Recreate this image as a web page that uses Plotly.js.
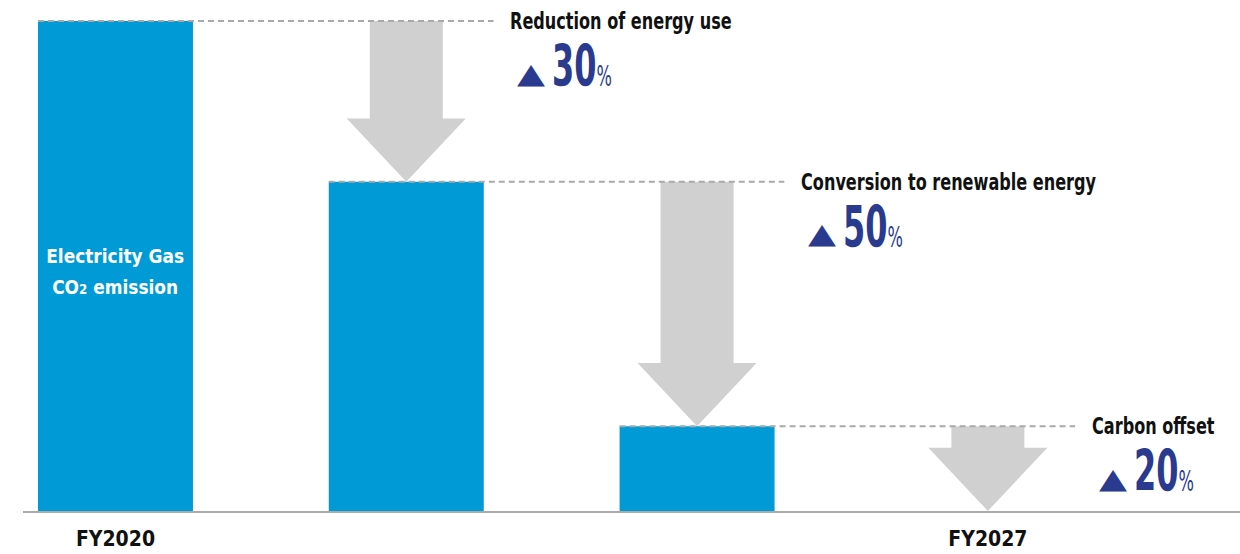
<!DOCTYPE html>
<html>
<head>
<meta charset="utf-8">
<script src="https://cdn.plot.ly/plotly-3.0.1.min.js"></script>
<style>html,body{margin:0;padding:0;background:#fff;}#chart{width:1240px;height:554px;}</style>
</head>
<body>
<div id="chart"></div>
<script>
// ---- data ----
const tickLabels = ["FY2020", "", "", "FY2027"];
const emissions = [100, 67.2, 17.3, 0];
const stepNames = ["Reduction of energy use", "Conversion to renewable energy", "Carbon offset"];
const stepPercents = [30, 50, 20];
const barLabelLines = ["Electricity Gas", "CO<span style=\"font-size:14px\">2</span> emission"];

// ---- styles ----
const FONT = "'DejaVu Sans', 'Liberation Sans', sans-serif";
const BLUE = "#009ad6";
const ARROW = "#d0d0d0";
const NAVY = "#2a3a8e";
const DASH = "#a9a9a9";
const barWidth = 0.533;
const shaftHalf = 0.1255, headHalf = 0.2046, headH = 12.9;
const lineExt = 0.30, labelOff = 0.35;
const TICK_SCALE = 0.9;

const xs = emissions.map((_, i) => i);

const shapes = [];
const annotations = [];
const annScale = [];   // horizontal condensing factor per annotation

function addAnn(a, s) { annotations.push(a); annScale.push(s); }

for (let i = 1; i < emissions.length; i++) {
  const top = emissions[i - 1], tip = emissions[i], hb = tip + headH, c = i;
  shapes.push({
    type: "path", xref: "x", yref: "y", layer: "above",
    path: `M ${c - shaftHalf},${top} L ${c + shaftHalf},${top} L ${c + shaftHalf},${hb} L ${c + headHalf},${hb} L ${c},${tip} L ${c - headHalf},${hb} L ${c - shaftHalf},${hb} Z`,
    fillcolor: ARROW, line: {width: 0}
  });
}
for (let i = 1; i < emissions.length; i++) {
  const yv = emissions[i - 1], xv = i + labelOff;
  shapes.push({
    type: "line", xref: "x", yref: "y", layer: "above",
    x0: (i - 1) - barWidth / 2, x1: i + lineExt, y0: yv, y1: yv,
    line: {color: DASH, width: 2, dash: "6px,4px"}
  });
  addAnn({
    x: xv, y: yv, xref: "x", yref: "y",
    xanchor: "left", yanchor: "middle", showarrow: false,
    text: stepNames[i - 1],
    font: {family: FONT, size: 23, color: "#111111", weight: 700}
  }, 0.70);
  addAnn({
    x: xv, y: yv, xref: "x", yref: "y",
    xanchor: "left", yanchor: "middle", showarrow: false, xshift: 7, yshift: -52,
    text: "▲",
    font: {family: FONT, size: 28, color: NAVY}
  }, 1.3);
  addAnn({
    x: xv, y: yv, xref: "x", yref: "y",
    xanchor: "left", yanchor: "middle", showarrow: false, xshift: 42, yshift: -45,
    text: `${stepPercents[i - 1]}<span style="font-size:29px;font-weight:normal">%</span>`,
    font: {family: FONT, size: 57, color: NAVY, weight: 700}
  }, 0.56);
}
barLabelLines.forEach((t, k) => {
  addAnn({
    x: 0, y: emissions[0] / 2, xref: "x", yref: "y",
    xanchor: "center", yanchor: "middle", showarrow: false,
    yshift: 10.5 - 31.5 * k,
    text: t,
    font: {family: FONT, size: 20, color: "#ffffff", weight: 700}
  }, 0.85);
});

const traces = [{
  type: "bar", x: xs, y: emissions, width: barWidth,
  marker: {color: BLUE, line: {width: 0}},
  hoverinfo: "skip"
}];

const layout = {
  width: 1240, height: 554,
  margin: {l: 23, r: 0, t: 0, b: 43},
  paper_bgcolor: "#ffffff", plot_bgcolor: "#ffffff",
  showlegend: false,
  xaxis: {
    range: [-0.318, 3.867], showgrid: false, zeroline: false,
    showline: true, linecolor: "#aaaaaa", linewidth: 2,
    tickvals: xs, ticktext: tickLabels, ticks: "", ticklabelstandoff: 8,
    tickfont: {family: FONT, size: 21, color: "#111111", weight: 700}
  },
  yaxis: {range: [0, 104.29], visible: false, showgrid: false, zeroline: false},
  shapes: shapes,
  annotations: annotations
};

function condense(t, s, anchorLeft) {
  const bb = t.getBBox();
  const cx = anchorLeft ? bb.x : bb.x + bb.width / 2;
  const prev = t.getAttribute("transform") || "";
  t.setAttribute("transform", `${prev} translate(${cx},0) scale(${s},1) translate(${-cx},0)`.trim());
}

Plotly.newPlot("chart", traces, layout, {displayModeBar: false, staticPlot: true}).then(gd => {
  gd.querySelectorAll("g.annotation").forEach(g => {
    const idx = +g.getAttribute("data-index");
    const s = annScale[idx];
    const t = g.querySelector("text.annotation-text");
    if (!t || !s || s === 1) return;
    condense(t, s, annotations[idx].xanchor === "left");
  });
  gd.querySelectorAll(".xtick text").forEach(t => condense(t, TICK_SCALE, false));
});
</script>
</body>
</html>
